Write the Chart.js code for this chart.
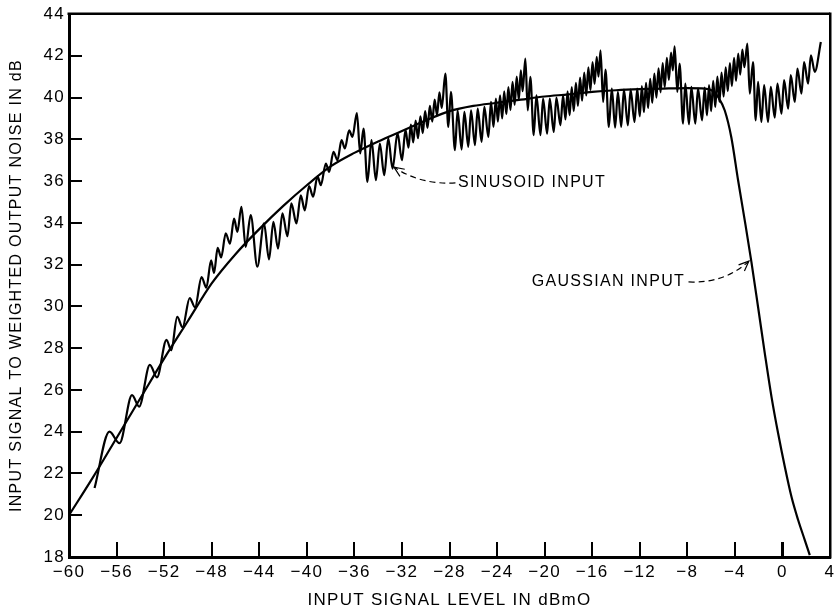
<!DOCTYPE html>
<html>
<head>
<meta charset="utf-8">
<title>Signal to weighted noise</title>
<script src="https://cdn.jsdelivr.net/npm/chart.js@4.4.1/dist/chart.umd.min.js"></script>
<style>
    html, body { margin: 0; padding: 0; background: #fff; }
</style>
</head>
<body>
<canvas id="noiseChart" width="834" height="611"></canvas>
<script>
// Tick values of both axes
const xTicks = [-60, -56, -52, -48, -44, -40, -36, -32, -28, -24, -20, -16, -12, -8, -4, 0, 4];
const yTicks = [18, 20, 22, 24, 26, 28, 30, 32, 34, 36, 38, 40, 42, 44];

// Gaussian input curve, [dBm0, dB]
const gaussianPoints = [
    [-60, 20.0], [-58, 21.8], [-56, 23.7], [-54, 25.6], [-52, 27.5], [-50, 29.3],
    [-48, 31.1], [-46, 32.5], [-44, 33.7], [-42, 34.8], [-40, 35.8], [-38, 36.7],
    [-36, 37.35], [-34, 37.9], [-32, 38.4], [-30, 38.9], [-28, 39.35], [-26, 39.6],
    [-24, 39.75], [-22, 39.9], [-20, 40.05], [-18, 40.15], [-16, 40.27], [-14, 40.35],
    [-12, 40.4], [-10, 40.43], [-8, 40.45], [-6.5, 40.43], [-5.8, 40.3], [-5.4, 40.02],
    [-4.85, 39.38], [-4.3, 38.1], [-3.73, 36.04], [-3.17, 34.12], [-2.61, 32.13],
    [-2.05, 29.97], [-1.48, 27.74], [-0.92, 25.67], [-0.36, 23.91], [0.2, 22.32],
    [0.76, 20.88], [1.32, 19.77], [1.88, 18.81], [2.3, 18.09]
];

// Sinusoid input curve, peaks and troughs
const sinusoidPoints = [
    [-57.85, 21.3], [-56.6, 24.0], [-55.75, 23.45], [-54.7, 25.75], [-54.1, 25.2],
    [-53.2, 27.2], [-52.6, 26.6], [-51.8, 28.4], [-51.4, 27.9], [-50.9, 29.5],
    [-50.45, 29.0], [-49.85, 30.4], [-49.4, 29.96], [-48.85, 31.4], [-48.45, 30.9],
    [-48.05, 32.2], [-47.8, 31.6], [-47.5, 32.8], [-47.2, 32.35], [-46.82, 33.5],
    [-46.46, 33.0], [-46.12, 34.2], [-45.84, 33.57], [-45.5, 34.77], [-45.14, 32.85],
    [-44.72, 34.37], [-44.16, 31.9], [-43.6, 33.97], [-43.18, 32.25], [-42.81, 34.05],
    [-42.42, 32.77], [-42.05, 34.45], [-41.63, 33.36], [-41.3, 34.93], [-40.87, 33.97],
    [-40.51, 35.32], [-40.17, 34.6], [-39.81, 35.76], [-39.47, 35.25], [-39.1, 36.23],
    [-38.82, 35.8], [-38.4, 36.84], [-38.12, 36.44], [-37.76, 37.4], [-37.42, 37.0],
    [-37.08, 37.96], [-36.8, 37.56], [-36.44, 38.43], [-36.16, 38.12], [-35.79, 39.26],
    // cycle 1
    [-35.51, 37.32], [-35.23, 38.51], [-34.9, 35.96], [-34.56, 37.96], [-34.19, 36.04],
    [-33.86, 37.8], [-33.49, 36.28], [-33.15, 38.04], [-32.79, 36.6], [-32.37, 38.3],
    [-32.0, 37.0], [-31.7, 38.45], [-31.45, 37.6], [-31.25, 38.7], [-31.05, 37.85],
    [-30.85, 38.9], [-30.65, 38.05], [-30.45, 39.1], [-30.25, 38.3], [-30.05, 39.35],
    [-29.85, 38.55], [-29.65, 39.6], [-29.45, 38.85], [-29.25, 39.9], [-29.05, 39.15],
    [-28.85, 40.25], [-28.65, 39.5], [-28.35, 41.15],
    // cycle 2
    [-28.1, 38.59], [-27.88, 40.27], [-27.54, 37.48], [-27.32, 39.39], [-26.98, 37.51],
    [-26.75, 39.31], [-26.42, 37.64], [-26.19, 39.39], [-25.86, 37.72], [-25.63, 39.47],
    [-25.3, 37.88], [-25.07, 39.55], [-24.73, 38.11], [-24.51, 39.79], [-24.3, 38.6],
    [-24.1, 39.95], [-23.93, 38.85], [-23.75, 40.1], [-23.57, 39.0], [-23.4, 40.3],
    [-23.22, 39.2], [-23.05, 40.5], [-22.87, 39.4], [-22.7, 40.75], [-22.52, 39.65],
    [-22.35, 41.0], [-22.17, 39.9], [-22.0, 41.3], [-21.85, 40.3], [-21.62, 41.86],
    // cycle 3
    [-21.42, 39.39], [-21.2, 40.99], [-20.92, 38.2], [-20.69, 40.11], [-20.35, 38.2],
    [-20.13, 39.95], [-19.79, 38.27], [-19.57, 39.95], [-19.23, 38.35], [-19.01, 40.0],
    [-18.67, 38.67], [-18.45, 40.11], [-18.25, 38.95], [-18.07, 40.3], [-17.9, 39.15],
    [-17.72, 40.5], [-17.55, 39.35], [-17.37, 40.7], [-17.2, 39.6], [-17.02, 40.95],
    [-16.85, 39.85], [-16.67, 41.2], [-16.5, 40.1], [-16.32, 41.45], [-16.15, 40.35],
    [-15.97, 41.7], [-15.8, 40.65], [-15.62, 41.95], [-15.47, 41.0], [-15.3, 42.26],
    // cycle 4
    [-15.08, 39.79], [-14.88, 41.34], [-14.6, 38.59], [-14.35, 40.43], [-14.07, 38.56],
    [-13.84, 40.27], [-13.56, 38.6], [-13.33, 40.38], [-13.0, 38.67], [-12.77, 40.38],
    [-12.44, 38.83], [-12.21, 40.43], [-12.0, 39.1], [-11.82, 40.55], [-11.65, 39.3],
    [-11.47, 40.7], [-11.3, 39.5], [-11.12, 40.9], [-10.95, 39.75], [-10.77, 41.15],
    [-10.6, 40.0], [-10.42, 41.4], [-10.25, 40.25], [-10.07, 41.65], [-9.9, 40.5],
    [-9.72, 41.9], [-9.55, 40.85], [-9.37, 42.15], [-9.22, 41.3], [-9.07, 42.45],
    // cycle 5
    [-8.84, 40.27], [-8.65, 41.63], [-8.36, 38.75], [-8.17, 40.67], [-7.86, 38.72],
    [-7.66, 40.51], [-7.33, 38.75], [-7.1, 40.43], [-6.76, 38.91], [-6.54, 40.48],
    [-6.35, 39.15], [-6.17, 40.6], [-6.0, 39.35], [-5.82, 40.8], [-5.65, 39.55],
    [-5.47, 41.0], [-5.3, 39.8], [-5.12, 41.2], [-4.95, 40.05], [-4.77, 41.45],
    [-4.6, 40.3], [-4.42, 41.65], [-4.25, 40.55], [-4.07, 41.9], [-3.9, 40.8],
    [-3.72, 42.1], [-3.55, 41.1], [-3.37, 42.3], [-3.2, 41.45], [-2.95, 42.58],
    // cycle 6
    [-2.75, 40.19], [-2.47, 41.7], [-2.25, 38.91], [-2.05, 40.75], [-1.77, 38.83],
    [-1.54, 40.59], [-1.21, 38.83], [-0.98, 40.51], [-0.65, 39.04], [-0.42, 40.67],
    [-0.08, 39.23], [0.14, 40.83], [0.48, 39.47], [0.7, 41.07], [1.04, 39.79],
    [1.26, 41.39], [1.6, 40.19], [1.82, 41.7], [2.16, 40.67], [2.39, 42.02],
    [2.72, 41.23], [3.23, 42.66]
];

// Callout labels with dashed arrows (anchored in data units)
const callouts = [
    { text: 'SINUSOID INPUT', at: [-27.28, 35.91], align: 'left', from: [-27.5, 35.91], ctrl: [-30.48, 35.82], tip: [-32.67, 36.67] },
    { text: 'GAUSSIAN INPUT', at: [-8.19, 31.17], align: 'right', from: [-7.9, 31.17], ctrl: [-4.83, 31.1], tip: [-2.82, 32.17] }
];

const FONT = '"Liberation Sans", Arial, Helvetica, sans-serif';
Chart.defaults.font.family = FONT;
Chart.defaults.color = '#000';

const toXY = pts => pts.map(p => ({ x: p[0], y: p[1] }));
const fmtTick = v => (v < 0 ? '\u2212' + Math.abs(v) : String(v));
const noPadding = scale => {
    scale.paddingTop = 0;
    scale.paddingBottom = 0;
    scale.paddingLeft = 0;
    scale.paddingRight = 0;
};

// frame, letter spacing and callouts
const paperPlugin = {
    id: 'paper',
    beforeDraw(chart) {
        chart.ctx.letterSpacing = '1.3px';
    },
    afterDraw(chart) {
        const ctx = chart.ctx;
        const area = chart.chartArea;
        const xs = chart.scales.x;
        const ys = chart.scales.y;
        ctx.save();
        ctx.fillStyle = '#000';
        ctx.fillRect(area.left - 1.5, area.top - 1.5, area.right - area.left + 1.5, 2.5);
        ctx.fillRect(area.right - 1, area.top - 1.5, 2.5, area.bottom - area.top + 3);

        callouts.forEach(c => {
            const px = v => xs.getPixelForValue(v[0]);
            const py = v => ys.getPixelForValue(v[1]);
            ctx.font = '16px ' + FONT;
            ctx.fillStyle = '#000';
            ctx.textBaseline = 'middle';
            ctx.textAlign = c.align;
            ctx.fillText(c.text, px(c.at), py(c.at));

            const fx = px(c.from), fy = py(c.from);
            const cx = px(c.ctrl), cy = py(c.ctrl);
            const tx = px(c.tip), ty = py(c.tip);
            ctx.strokeStyle = '#000';
            ctx.lineWidth = 1.2;
            ctx.setLineDash([6, 4]);
            ctx.beginPath();
            ctx.moveTo(fx, fy);
            ctx.quadraticCurveTo(cx, cy, tx, ty);
            ctx.stroke();
            ctx.setLineDash([]);
            const ang = Math.atan2(ty - cy, tx - cx);
            ctx.beginPath();
            ctx.moveTo(tx - 11 * Math.cos(ang - 0.4), ty - 11 * Math.sin(ang - 0.4));
            ctx.lineTo(tx, ty);
            ctx.lineTo(tx - 11 * Math.cos(ang + 0.4), ty - 11 * Math.sin(ang + 0.4));
            ctx.stroke();
        });
        ctx.restore();
    }
};

new Chart(document.getElementById('noiseChart'), {
    type: 'line',
    data: {
        datasets: [{
            label: 'Gaussian input',
            data: toXY(gaussianPoints),
            borderColor: '#000',
            borderWidth: 2.2,
            pointRadius: 0,
            cubicInterpolationMode: 'monotone'
        }, {
            label: 'Sinusoid input',
            data: toXY(sinusoidPoints),
            borderColor: '#000',
            borderWidth: 2.2,
            pointRadius: 0,
            cubicInterpolationMode: 'monotone'
        }]
    },
    options: {
        responsive: false,
        animation: false,
        layout: { padding: { top: 14, right: 4, left: 0, bottom: 0 } },
        plugins: {
            legend: { display: false },
            tooltip: { enabled: false }
        },
        scales: {
            x: {
                type: 'linear',
                min: -60,
                max: 4,
                afterBuildTicks: scale => { scale.ticks = xTicks.map(v => ({ value: v })); },
                afterFit: scale => { scale.height = 54; noPadding(scale); },
                ticks: { callback: fmtTick, font: { size: 17 }, padding: 20, maxRotation: 0, autoSkip: false },
                grid: {
                    drawOnChartArea: false,
                    tickLength: -15,
                    lineWidth: ctx => (ctx.tick && ctx.tick.value === 0 ? 3 : 2),
                    color: '#000'
                },
                border: { display: true, width: 3, color: '#000' },
                title: { display: true, text: 'INPUT SIGNAL LEVEL IN dBmO', font: { size: 17 }, padding: { top: 0, bottom: 0 } }
            },
            y: {
                min: 18,
                max: 44,
                afterBuildTicks: scale => { scale.ticks = yTicks.map(v => ({ value: v })); },
                afterFit: scale => { scale.width = 69; noPadding(scale); },
                ticks: { callback: fmtTick, font: { size: 17 }, padding: 17, autoSkip: false },
                grid: { drawOnChartArea: false, tickLength: -13, lineWidth: 2, color: '#000' },
                border: { display: true, width: 3, color: '#000' },
                title: { display: true, text: 'INPUT SIGNAL TO WEIGHTED OUTPUT NOISE IN dB', font: { size: 16 }, padding: { top: 7, bottom: 0 } }
            }
        }
    },
    plugins: [paperPlugin]
});
</script>
</body>
</html>
